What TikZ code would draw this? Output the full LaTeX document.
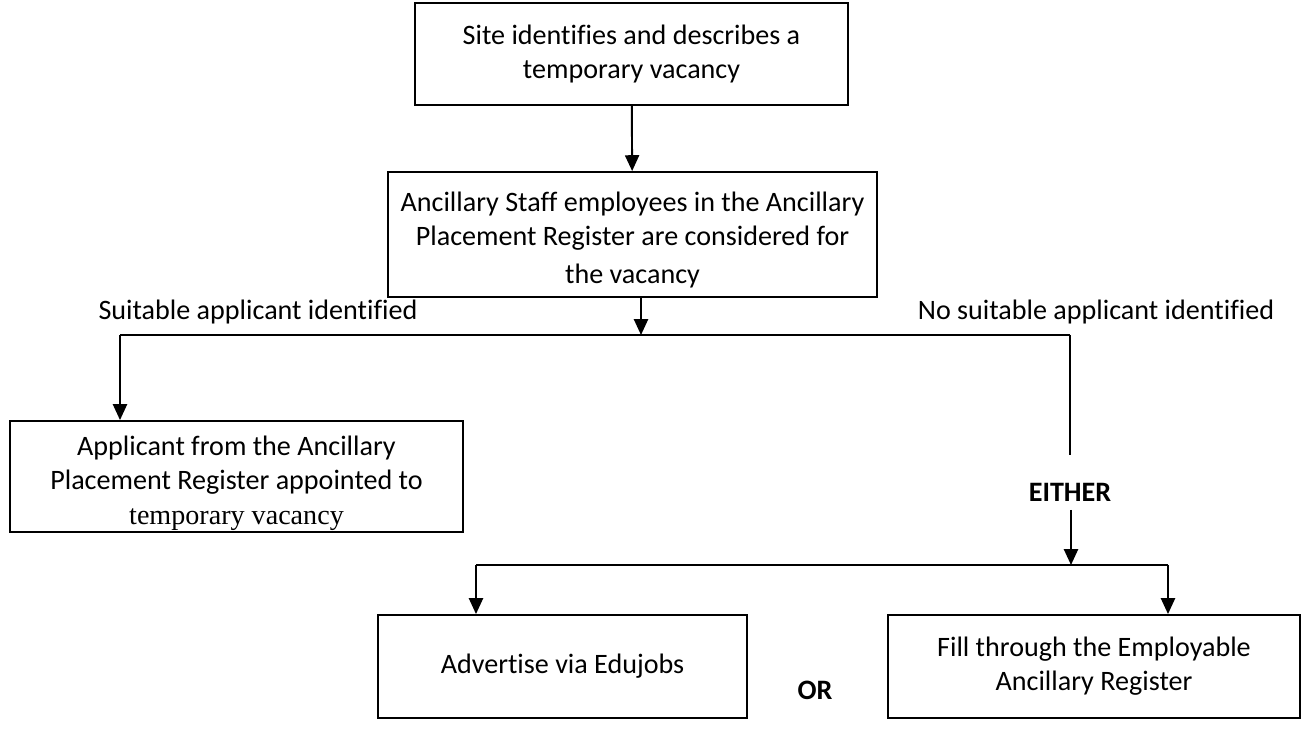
\documentclass[tikz,border=0pt]{standalone}
\usepackage{fontspec}
\setmainfont[Ligatures=NoCommon]{Carlito}
\newfontfamily\vacfont{Liberation Serif}
\usetikzlibrary{arrows.meta}
% invisible strut that pushes a block of lines down by #1
\newcommand\pushdown[1]{\rule{0pt}{\dimexpr 12pt+2\dimexpr #1\relax\relax}}
\tikzset{
    flowbox/.style={draw, line width=1.1pt, align=center, font=\fontsize{16}{19.5}\selectfont},
    flowline/.style={line width=1.1pt},
    flowarrow/.style={line width=1.1pt, -{Triangle[width=8pt,length=9pt]}},
    flowlabel/.style={font=\fontsize{16}{19.5}\selectfont},
    flowword/.style={font=\fontsize{16}{19.5}\selectfont\bfseries}
}
\begin{document}
\begin{tikzpicture}[x=0.02cm, y=-0.02cm]
        \useasboundingbox (0,0) rectangle (1305,749);
        % boxes
        \node[flowbox, minimum width=8.66cm, minimum height=2.04cm] (site) at (631.5,54)
            {Site identifies and describes a\\temporary vacancy};
        \node[flowbox, minimum width=9.78cm, minimum height=2.5cm] (register) at (632.5,234.5)
            {\pushdown{2.5pt}Ancillary Staff employees in the Ancillary\\Placement Register are considered for\\[2pt]the vacancy};
        \node[flowbox, inner ysep=0pt, minimum width=9.06cm, minimum height=2.22cm] (appointed) at (236.5,476.5)
            {\pushdown{3.4pt}Applicant from the Ancillary\\Placement Register appointed to\\{\vacfont temporary vacancy}};
        \node[flowbox, minimum width=7.38cm, minimum height=2.06cm] (advertise) at (562.5,666.5)
            {Advertise via Edujobs};
        \node[flowbox, minimum width=8.24cm, minimum height=2.06cm] (employable) at (1094,666.5)
            {Fill through the Employable\\Ancillary Register};
        % branch points
        \coordinate (split) at (641,335);
        \coordinate (suitable) at (120,335);
        \coordinate (nosuitable) at (1070,335);
        \coordinate (eithertop) at (1070,455);
        \coordinate (eitherbot) at (1071,510);
        \coordinate (choice) at (1071,565);
        \coordinate (choiceleft) at (476,565);
        \coordinate (choiceright) at (1168,565);
        % labels
        \node[flowlabel] (yeslabel) at (258,312) {Suitable applicant identified};
        \node[flowlabel] (nolabel) at (1096,312) {No suitable applicant identified};
        \node[flowword] (either) at (1070,492) {EITHER};
        \node[flowword] (orword) at (815,690) {OR};
        % connectors
        \draw[flowarrow] (site) -- (register);
        \draw[flowarrow] (register.south -| split) -- (split);
        \draw[flowline] (suitable) -- (nosuitable);
        \draw[flowarrow] (suitable) -- (appointed.north -| suitable);
        \draw[flowline] (nosuitable) -- (eithertop);
        \draw[flowarrow] (eitherbot) -- (choice);
        \draw[flowline] (choiceleft) -- (choiceright);
        \foreach \c/\b in {choiceleft/advertise, choiceright/employable}
            \draw[flowarrow] (\c) -- (\b.north -| \c);
    \end{tikzpicture}
\end{document}
